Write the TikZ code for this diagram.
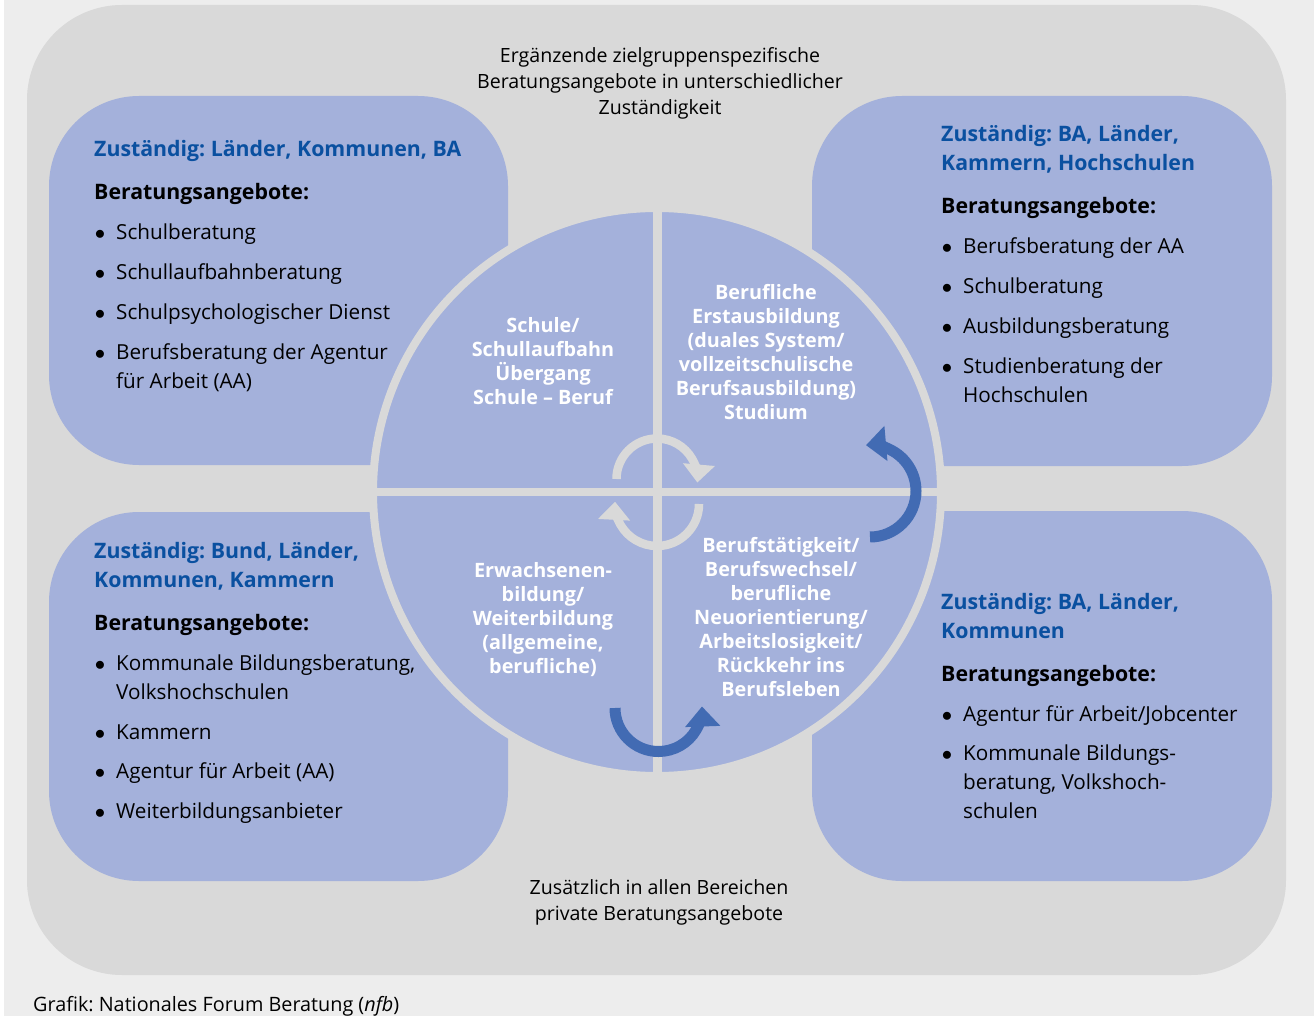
\documentclass[tikz,border=0pt]{standalone}
\usepackage{fontspec}
\setmainfont{Open Sans}
\usepackage{xcolor}
\usetikzlibrary{arrows.meta}

\definecolor{hintergrund}{HTML}{EDEDED}
\definecolor{rahmengrau}{HTML}{D9D9D9}
\definecolor{feldblau}{HTML}{A4B1DB}
\definecolor{titelblau}{HTML}{0A50A0}
\definecolor{pfeilblau}{HTML}{426BB3}

\newcommand{\punkt}{\llap{$\bullet$\hspace{11pt}}}
\frenchspacing

\begin{document}
\begin{tikzpicture}[x=1pt, y=1pt,
    feld/.style={fill=feldblau, rounded corners=90pt},
    zustaendig/.style={anchor=base west, inner sep=0pt, align=left, text=titelblau, font=\fontsize{21.3}{29}\selectfont\bfseries},
    angebote/.style={anchor=base west, inner sep=0pt, font=\fontsize{21.3}{29}\selectfont\bfseries},
    eintrag/.style={anchor=base west, inner sep=0pt, align=left, font=\fontsize{20.7}{29}\selectfont},
    bereich/.style={align=center, inner sep=0pt, text=white, font=\fontsize{19.8}{24}\selectfont\bfseries},
    hinweis/.style={align=center, inner sep=0pt, font=\fontsize{19.6}{26}\selectfont},
    kreisel/.style={line width=8.5pt, draw=rahmengrau, -{Triangle[width=31pt, length=18pt]}},
    wechsel/.style={line width=11pt, draw=pfeilblau, -{Triangle[width=34pt, length=20pt]}}
]
\useasboundingbox (0,0) rectangle (1314,-1016);

% Hintergrund
\fill[white] (0,0) rectangle (1314,-1016);
\fill[hintergrund] (4,0) rectangle (1314,-1016);
\fill[rahmengrau, rounded corners=95pt] (27,-5) rectangle (1286,-975);

% Zuständigkeitsfelder
\fill[feld] (49,-96) rectangle (508,-465);
\fill[feld] (812,-96) rectangle (1272,-466);
\fill[feld] (49,-512) rectangle (508,-881);
\fill[feld] (812,-511) rectangle (1272,-881);

% Kreis mit Kreuz
\node[circle, fill=feldblau, draw=rahmengrau, line width=8pt, minimum size=568pt, inner sep=0pt] (K) at (657,-492) {};
\draw[rahmengrau, line width=9pt] (K.north) -- (K.south);
\draw[rahmengrau, line width=8pt] (K.west) -- (K.east);

% Lebensphasen
\node[bereich] (schule) at (543,-361.5) {Schule/\\Schullaufbahn\\Übergang\\Schule -- Beruf};
\node[bereich] (ausbildung) at (766,-352) {Berufliche\\Erstausbildung\\(duales System/\\vollzeitschulische\\Berufsausbildung)\\Studium};
\node[bereich] (weiterbildung) at (543,-620) {Erwachsenen-\\bildung/\\Weiterbildung\\(allgemeine,\\berufliche)};
\node[bereich] (beruf) at (781,-617) {Berufstätigkeit/\\Berufswechsel/\\berufliche\\Neuorientierung/\\Arbeitslosigkeit/\\Rückkehr ins\\Berufsleben};

% Kreislauf in der Mitte
\draw[kreisel] (616.5,-479) arc[start angle=180, end angle=-5, radius=40.5];
\draw[kreisel] (699,-504) arc[start angle=0, end angle=-183, radius=42];

% Übergänge
\draw[wechsel] (870,-537) arc[start angle=-90, end angle=95, radius=46];
\draw[wechsel] (615,-708) arc[start angle=180, end angle=362, radius=43.5];

% Texte außen
\node[hinweis] (oben) at (660,-83) {Ergänzende zielgruppenspezifische\\Beratungsangebote in unterschiedlicher\\Zuständigkeit};
\node[hinweis] (unten) at (659,-902) {Zusätzlich in allen Bereichen\\private Beratungsangebote};
\node[anchor=base west, inner sep=0pt, font=\fontsize{19.8}{24}\selectfont] (quelle) at (33,-1011) {Grafik: Nationales Forum Beratung (\textit{nfb})};

% Feld oben links
\node[zustaendig] (zol) at (94,-156.5) {Zuständig: Länder, Kommunen, BA};
\node[angebote] (bol) at (94,-199.5) {Beratungsangebote:};
\node[eintrag] (ol1) at (116,-239.5) {\punkt Schulberatung};
\node[eintrag] (ol2) at (116,-279.5) {\punkt Schullaufbahnberatung};
\node[eintrag] (ol3) at (116,-319.5) {\punkt Schulpsychologischer Dienst};
\node[eintrag] (ol4) at (116,-388.5) {\punkt Berufsberatung der Agentur\\für Arbeit (AA)};

% Feld oben rechts
\node[zustaendig] (zor) at (941,-170.5) {Zuständig: BA, Länder,\\Kammern, Hochschulen};
\node[angebote] (bor) at (941,-213.5) {Beratungsangebote:};
\node[eintrag] (or1) at (963,-253.5) {\punkt Berufsberatung der AA};
\node[eintrag] (or2) at (963,-293.5) {\punkt Schulberatung};
\node[eintrag] (or3) at (963,-333.5) {\punkt Ausbildungsberatung};
\node[eintrag] (or4) at (963,-402.5) {\punkt Studienberatung der\\Hochschulen};

% Feld unten links
\node[zustaendig] (zul) at (94,-587.5) {Zuständig: Bund, Länder,\\Kommunen, Kammern};
\node[angebote] (bul) at (94,-630.5) {Beratungsangebote:};
\node[eintrag] (ul1) at (116,-699.5) {\punkt Kommunale Bildungsberatung,\\Volkshochschulen};
\node[eintrag] (ul2) at (116,-739.5) {\punkt Kammern};
\node[eintrag] (ul3) at (116,-778.5) {\punkt Agentur für Arbeit (AA)};
\node[eintrag] (ul4) at (116,-818.5) {\punkt Weiterbildungsanbieter};

% Feld unten rechts
\node[zustaendig] (zur) at (941,-638.5) {Zuständig: BA, Länder,\\Kommunen};
\node[angebote] (bur) at (941,-681.5) {Beratungsangebote:};
\node[eintrag] (ur1) at (963,-721.5) {\punkt Agentur für Arbeit/Jobcenter};
\node[eintrag] (ur2) at (963,-818.5) {\punkt Kommunale Bildungs-\\beratung, Volkshoch-\\schulen};

\end{tikzpicture}
\end{document}
